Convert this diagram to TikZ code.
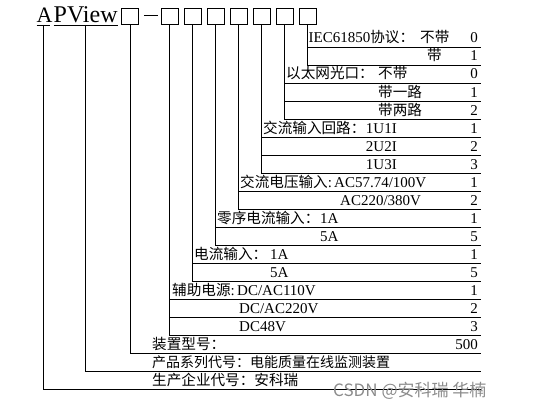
\documentclass[tikz,border=0pt]{standalone}
\usepackage{fontspec}
\setmainfont{Liberation Serif}
\newfontfamily\cjkfont{Noto Sans CJK SC}
\newcommand\zhs[1]{{\cjkfont\fontsize{14.6}{16}\selectfont #1}}
\newcommand\zhn[1]{{\cjkfont\fontsize{14}{16}\selectfont #1}}
\begin{document}
\begin{tikzpicture}[x=1pt,y=-1pt,
  box/.style={draw, line width=0.8pt, minimum width=17pt, minimum height=16pt, inner sep=0pt},
  lbl/.style={anchor=base west, inner sep=0pt, font=\fontsize{15}{18}\selectfont},
  lblr/.style={anchor=base east, inner sep=0pt, font=\fontsize{15}{18}\selectfont},
  ln/.style={line width=0.8pt},
  ttl/.style={anchor=base west, inner sep=0pt, font=\fontsize{24}{28}\selectfont}]
\useasboundingbox (0,0) rectangle (534,409);

% title
\node[ttl, font=\fontsize{22}{26}\selectfont] (tA) at (36.5,23) {A};
\node[ttl] (tPV) at (53.5,23) {PView};
\draw[ln] ([yshift=-2pt]tA.base west) -- ([yshift=-2pt,xshift=-2.5pt]tA.base east);
\draw[ln] ([yshift=-2pt]tPV.base west) -- ([yshift=-2pt]tPV.base east);

% boxes
\node[box] (b0) at (130,16) {};
\foreach \k in {1,...,7} \node[box] (b\k) at ({169.5+23*(\k-1)},16) {};
\draw[ln] ([xshift=5pt,yshift=1pt]b0.east) -- ([xshift=-3pt,yshift=1pt]b1.west);

% right ends of rows
\foreach \i in {0,...,19} \coordinate (e\i) at (481,{47+18*\i});

% connectors
\draw[ln] (b7.south) |- (e1);
\draw[ln] (b7.south |- e0) -- (e0);
\draw[ln] (b6.south) |- (e4);
\draw[ln] (b6.south |- e2) -- (e2);
\draw[ln] (b6.south |- e3) -- (e3);
\draw[ln] (b5.south) |- (e7);
\draw[ln] (b5.south |- e5) -- (e5);
\draw[ln] (b5.south |- e6) -- (e6);
\draw[ln] (b4.south) |- (e9);
\draw[ln] (b4.south |- e8) -- (e8);
\draw[ln] (b3.south) |- (e11);
\draw[ln] (b3.south |- e10) -- (e10);
\draw[ln] (b2.south) |- (e13);
\draw[ln] (b2.south |- e12) -- (e12);
\draw[ln] (b1.south) |- (e16);
\draw[ln] (b1.south |- e14) -- (e14);
\draw[ln] (b1.south |- e15) -- (e15);
\draw[ln] (b0.south) |- (e17);
\draw[ln] ([yshift=-2pt]tPV.base) |- (e18);
\draw[ln] ([xshift=-1.5pt,yshift=-2pt]tA.base) |- (e19);

% row texts
\node[lbl] (r0a) at (308.5,43) {IEC61850\zhs{协议：}};
\node[lbl] (r0b) at (420,43) {\zhs{不带}};
\node[lbl] (r1a) at (427,61) {\zhs{带}};
\node[lbl] (r2a) at (286,79) {\zhs{以太网光口：}};
\node[lbl] (r2b) at (378,79) {\zhs{不带}};
\node[lbl] (r3a) at (378,97) {\zhs{带一路}};
\node[lbl] (r4a) at (378,115) {\zhs{带两路}};
\node[lbl] (r5a) at (263,133) {\zhs{交流输入回路：}};
\node[lblr] (r5b) at (397,133) {1U1I};
\node[lblr] (r6a) at (397,151) {2U2I};
\node[lblr] (r7a) at (397,169) {1U3I};
\node[lbl] (r8a) at (240,187) {\zhs{交流电压输入}:};
\node[lbl] (r8b) at (334,187) {AC57.74/100V};
\node[lbl] (r9a) at (340,205) {AC220/380V};
\node[lbl] (r10a) at (217,223) {\zhs{零序电流输入：}};
\node[lbl] (r10b) at (320,223) {1A};
\node[lbl] (r11a) at (320,241) {5A};
\node[lbl] (r12a) at (194,259) {\zhs{电流输入：}};
\node[lbl] (r12b) at (270,259) {1A};
\node[lbl] (r13a) at (270,277) {5A};
\node[lbl] (r14a) at (172,295) {\zhs{辅助电源}:};
\node[lbl] (r14b) at (237,295) {DC/AC110V};
\node[lbl] (r15a) at (239,313) {DC/AC220V};
\node[lbl] (r16a) at (239,331) {DC48V};
\node[lbl] (r17a) at (152,349) {\zhs{装置型号：}};
\node[lbl] (r18a) at (152,367) {\zhn{产品系列代号：电能质量在线监测装置}};
\node[lbl] (r19a) at (152,385) {\zhs{生产企业代号：安科瑞}};

% codes
\node[lblr] (n0) at (478,43) {0};
\node[lblr] (n1) at (478,61) {1};
\node[lblr] (n2) at (478,79) {0};
\node[lblr] (n3) at (478,97) {1};
\node[lblr] (n4) at (478,115) {2};
\node[lblr] (n5) at (478,133) {1};
\node[lblr] (n6) at (478,151) {2};
\node[lblr] (n7) at (478,169) {3};
\node[lblr] (n8) at (478,187) {1};
\node[lblr] (n9) at (478,205) {2};
\node[lblr] (n10) at (478,223) {1};
\node[lblr] (n11) at (478,241) {5};
\node[lblr] (n12) at (478,259) {1};
\node[lblr] (n13) at (478,277) {5};
\node[lblr] (n14) at (478,295) {1};
\node[lblr] (n15) at (478,313) {2};
\node[lblr] (n16) at (478,331) {3};
\node[lblr] (n17) at (478,349) {500};

% watermark
\node[anchor=base west, inner sep=0pt, text=black!45, font=\cjkfont\fontsize{17}{20}\selectfont] (wm) at (333,396) {CSDN @安科瑞 华楠};
\end{tikzpicture}
\end{document}
